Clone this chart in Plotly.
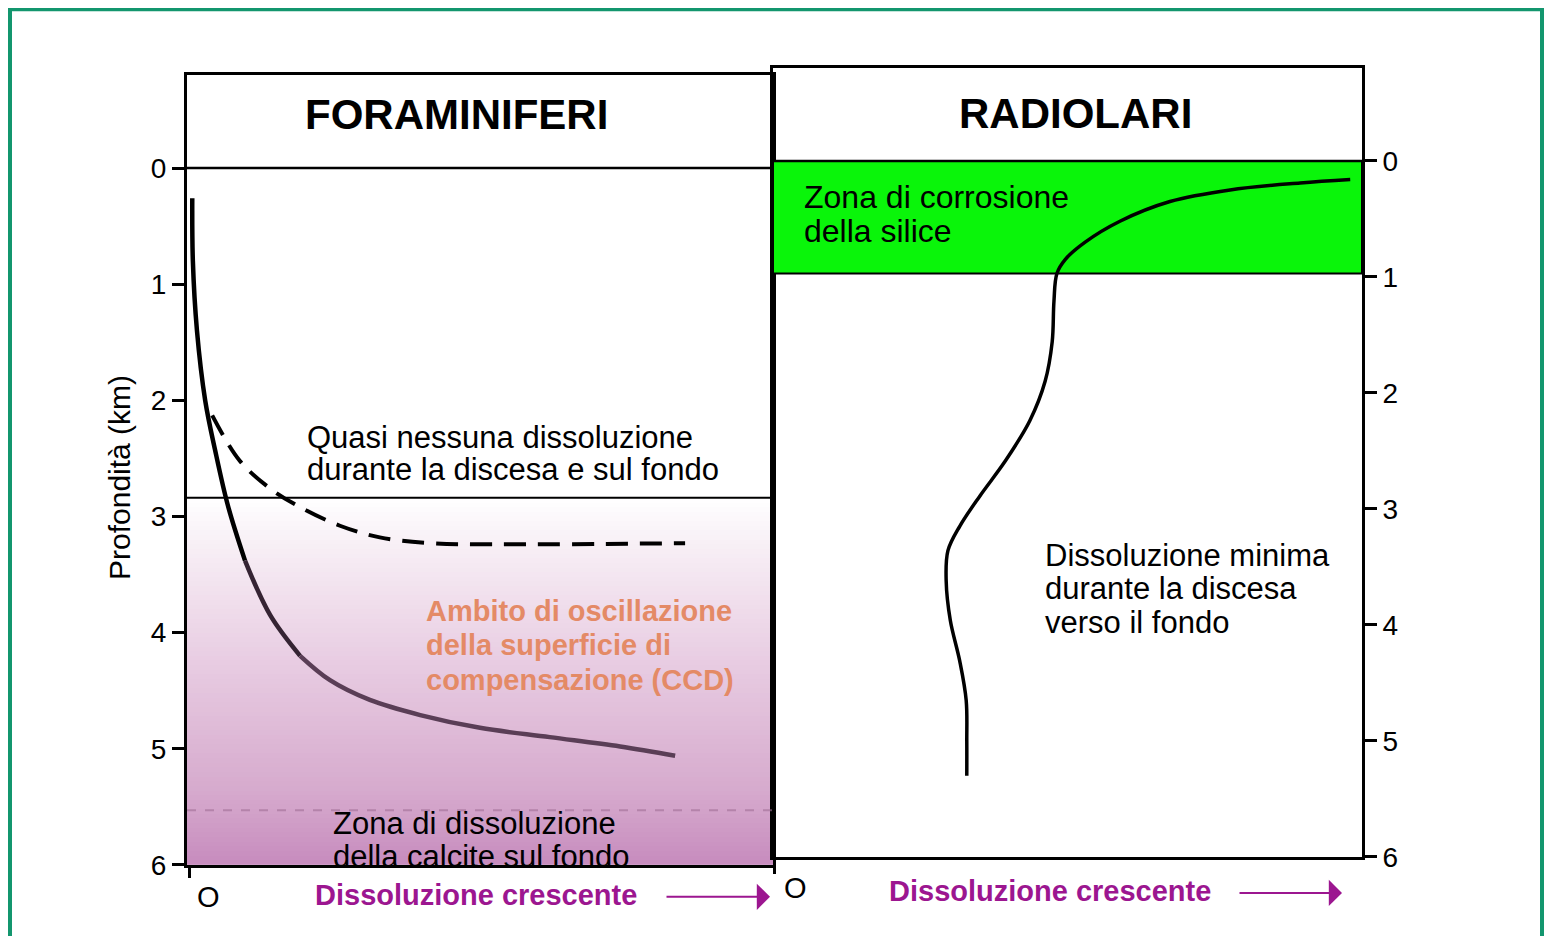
import numpy as np
import plotly.graph_objects as go

# ---- data ----
# foraminiferi: solid curve (dissoluzione vs profondita km)
foram_x = [0.09, 0.10, 0.17, 0.31, 0.48, 0.70, 0.99, 1.42, 1.93, 2.44, 3.12, 3.98, 5.00, 6.19, 7.39, 8.33]
foram_depth = [0.26, 0.80, 1.40, 2.00, 2.43, 2.91, 3.38, 3.85, 4.20, 4.41, 4.58, 4.71, 4.82, 4.90, 4.98, 5.06]

# foraminiferi: dashed curve
dash_x = [0.43, 0.90, 1.42, 1.93, 2.61, 3.29, 4.15, 5.34, 8.50]
dash_depth = [2.13, 2.52, 2.76, 2.92, 3.08, 3.18, 3.23, 3.24, 3.23]

# radiolari curve
radio_x = [9.80, 8.95, 7.76, 6.74, 5.89, 5.30, 4.96, 4.82, 4.77, 4.74, 4.62, 4.36, 3.94,
           3.51, 3.17, 2.97, 2.94, 3.01, 3.17, 3.28, 3.29, 3.29]
radio_depth = [0.16, 0.19, 0.25, 0.35, 0.52, 0.70, 0.85, 0.97, 1.21, 1.56, 1.90, 2.24, 2.59,
               2.89, 3.15, 3.36, 3.62, 3.96, 4.31, 4.65, 5.00, 5.30]

ccd_top = 2.84          # top of CCD range (km)
ccd_line = 5.53         # faint line inside the zone
silica_zone = [0.0, 0.97]
depth_ticks = [0, 1, 2, 3, 4, 5, 6]

titles = ["FORAMINIFERI", "RADIOLARI"]
txt_quasi = ["Quasi nessuna dissoluzione", "durante la discesa e sul fondo"]
txt_ambito = ["Ambito di oscillazione", "della superficie di", "compensazione (CCD)"]
txt_zona_calc = ["Zona di dissoluzione", "della calcite sul fondo"]
txt_zona_sil = ["Zona di corrosione", "della silice"]
txt_minima = ["Dissoluzione minima", "durante la discesa", "verso il fondo"]
x_label = "Dissoluzione crescente"
y_label = "Profondità (km)"

# page has an 8px body margin and the capture squeezes height a little
OFF = 8
SY = 936 / 952
W, H = 1552 - 2 * OFF, 952 - 2 * OFF
FONT = "Liberation Sans, Arial, sans-serif"
PURPLE = "#9c1690"


def px(x):
    return (x - OFF) / W


def py(y):
    return 1 - (y / SY - OFF) / H


fig = go.Figure()

# CCD gradient zone (left panel)
edges = np.linspace(ccd_top, 6, 80)
centers = (edges[:-1] + edges[1:]) / 2
fig.add_trace(go.Heatmap(
    x=[0, 10], y=edges, z=[[c] for c in centers],
    colorscale=[[0, "#ffffff"], [0.12, "#f8f0f6"], [0.45, "#e8cce2"],
                [0.8, "#d6aacd"], [1, "#c68bbd"]],
    zmin=ccd_top, zmax=6, showscale=False, hoverinfo="skip",
    xaxis="x", yaxis="y"))

# solid foraminiferi curve (black on top, blended into the purple below)
fig.add_trace(go.Scatter(x=foram_x[:7], y=foram_depth[:7], mode="lines",
                         line=dict(color="black", width=4.5, shape="spline"),
                         xaxis="x", yaxis="y"))
fig.add_trace(go.Scatter(x=foram_x[6:9], y=foram_depth[6:9], mode="lines",
                         line=dict(color="#352433", width=4.5, shape="spline"),
                         xaxis="x", yaxis="y"))
fig.add_trace(go.Scatter(x=foram_x[8:], y=foram_depth[8:], mode="lines",
                         line=dict(color="#5a3e56", width=4.5, shape="spline"),
                         xaxis="x", yaxis="y"))
fig.add_trace(go.Scatter(x=dash_x, y=dash_depth, mode="lines",
                         line=dict(color="black", width=4, dash="22px,12px", shape="spline"),
                         xaxis="x", yaxis="y"))
fig.add_trace(go.Scatter(x=radio_x, y=radio_depth, mode="lines",
                         line=dict(color="black", width=3.5, shape="spline"),
                         xaxis="x2", yaxis="y2"))

shapes = [
    # page frame
    dict(type="rect", xref="paper", yref="paper", x0=px(10), x1=px(1542), y0=-0.1, y1=py(9),
         fillcolor="white", line=dict(color="#13966e", width=4), layer="below"),
    # green silica zone
    dict(type="rect", xref="x2", yref="y2", x0=0, x1=10, y0=silica_zone[0], y1=silica_zone[1],
         fillcolor="#0af50a", line=dict(color="black", width=2), layer="below"),
    # header separators
    dict(type="line", xref="x", yref="y", x0=0, x1=10, y0=0, y1=0, line=dict(color="black", width=2.5)),
    dict(type="line", xref="x2", yref="y2", x0=0, x1=10, y0=0, y1=0, line=dict(color="black", width=2.5)),
    # CCD top line and faint inner line
    dict(type="line", xref="x", yref="y", x0=0, x1=10, y0=ccd_top, y1=ccd_top,
         line=dict(color="black", width=2)),
    dict(type="line", xref="x", yref="y", x0=0, x1=10, y0=ccd_line, y1=ccd_line,
         line=dict(color="rgba(160,110,150,0.6)", width=2, dash="dash")),
]

annotations = []


def add_lines(lines, x, y0, dy, xref, yref, size=31, color="black", bold=False):
    for i, t in enumerate(lines):
        annotations.append(dict(
            text=f"<b>{t}</b>" if bold else t, x=x, y=y0 + i * dy, xref=xref, yref=yref,
            xanchor="left", yanchor="middle", showarrow=False,
            font=dict(family=FONT, size=size, color=color)))


def paper_text(text, x, y, size, color="black", angle=0):
    annotations.append(dict(text=text, x=px(x), y=py(y), xref="paper", yref="paper",
                            xanchor="center", yanchor="middle", textangle=angle,
                            showarrow=False, font=dict(family=FONT, size=size, color=color)))


add_lines(txt_quasi, 2.01, 2.32, 0.28, "x", "y")
add_lines(txt_ambito, 4.04, 3.81, 0.30, "x", "y", color="#e48a66", bold=True, size=29)
add_lines(txt_zona_calc, 2.46, 5.64, 0.29, "x", "y")
add_lines(txt_zona_sil, 0.49, 0.31, 0.29, "x2", "y2", size=32)
add_lines(txt_minima, 4.58, 3.40, 0.29, "x2", "y2")

# panel titles
paper_text(f"<b>{titles[0]}</b>", 456, 114, 42)
paper_text(f"<b>{titles[1]}</b>", 1075, 113, 42)

# bottom labels with arrows
paper_text(f"<b>{x_label}</b>", 476, 895, 29, PURPLE)
paper_text(f"<b>{x_label}</b>", 1050, 891, 29, PURPLE)
for hx, tx, ay in [(770, 665, 897), (1342, 1238, 893)]:
    annotations.append(dict(text="", x=px(hx), y=py(ay), xref="paper", yref="paper",
                            ax=tx - hx, ay=0, showarrow=True, arrowhead=1, arrowsize=2.2,
                            arrowwidth=2, arrowcolor=PURPLE))
paper_text("O", 208, 897, 29)
paper_text("O", 795, 888, 29)

# y axis title
paper_text(y_label, 120, 478, 30, angle=-90)

axis_common = dict(showgrid=False, zeroline=False, showline=True, linecolor="black",
                   linewidth=3, mirror=True, ticks="outside", tickcolor="black", tickwidth=2.5)

fig.update_layout(
    width=W, height=H,
    margin=dict(l=0, r=0, t=0, b=0),
    paper_bgcolor="white",
    plot_bgcolor="rgba(0,0,0,0)",
    showlegend=False,
    shapes=shapes,
    annotations=annotations,
    xaxis=dict(domain=[px(187), px(773)], range=[0, 10], anchor="y",
               tickvals=[0.05], ticklen=10, showticklabels=False, **axis_common),
    yaxis=dict(domain=[py(865), py(75)], range=[6, -0.8], anchor="x",
               tickvals=depth_ticks, ticklen=12, side="left",
               tickfont=dict(family=FONT, size=28, color="black"), **axis_common),
    xaxis2=dict(domain=[px(773), px(1362)], range=[0, 10], anchor="y2",
                tickvals=[0.03], ticklen=14, showticklabels=False, **axis_common),
    yaxis2=dict(domain=[py(857), py(68)], range=[6, -0.8], anchor="x2",
                tickvals=depth_ticks, ticklen=12, side="right",
                tickfont=dict(family=FONT, size=28, color="black"), **axis_common),
)

fig.write_html("out.html")
